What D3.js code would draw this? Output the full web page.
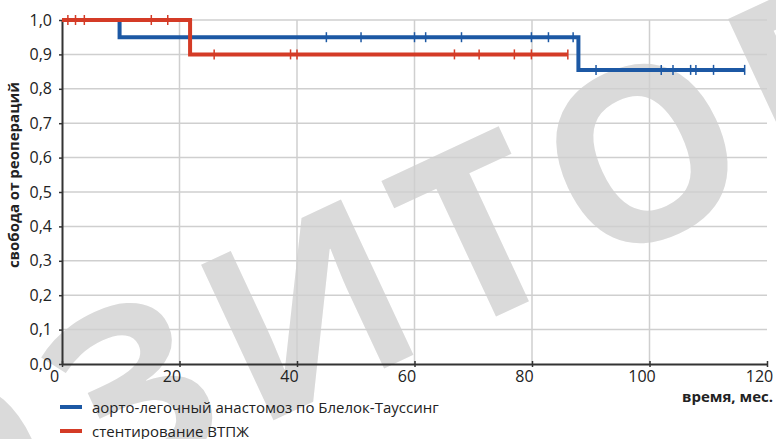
<!DOCTYPE html>
<html>
<head>
<meta charset="utf-8">
<script src="https://cdn.jsdelivr.net/npm/d3@7"></script>
<style>
  body { margin: 0; background: #fff; }
  text { font-family: "Open Sans", "Noto Sans", sans-serif; fill: #222; }
</style>
</head>
<body>
<svg></svg>
<script>
/* Kaplan-Meier: freedom from reoperation */
var w = 776, h = 439;

// step points [month, survival]
var bt_steps = [[0, 1.0], [9.8, 0.95], [87.9, 0.855], [116.2, 0.855]];
var bt_censor = [[45.0, 0.95], [50.9, 0.95], [60.0, 0.95], [61.9, 0.95], [68.0, 0.95],
                 [79.9, 0.95], [82.8, 0.95], [87.0, 0.95],
                 [90.9, 0.855], [102.0, 0.855], [104.0, 0.855], [107.0, 0.855],
                 [107.9, 0.855], [110.9, 0.855], [116.2, 0.855]];

var st_steps = [[0, 1.0], [21.8, 0.9], [86.1, 0.9]];
var st_censor = [[1.0, 1.0], [2.3, 1.0], [3.8, 1.0], [15.2, 1.0], [18.0, 1.0],
                 [25.9, 0.9], [38.9, 0.9], [40.0, 0.9], [66.8, 0.9], [71.0, 0.9],
                 [77.0, 0.9], [79.9, 0.9], [86.1, 0.9]];

var x_ticks = [0, 20, 40, 60, 80, 100, 120];
var y_ticks = [0, 0.1, 0.2, 0.3, 0.4, 0.5, 0.6, 0.7, 0.8, 0.9, 1.0];

var series_names = ["аорто-легочный анастомоз по Блелок-Тауссинг", "стентирование ВТПЖ"];
var series_colors = ["#1c58a4", "#d43b26"];

var svg = d3.select("svg").attr("width", w).attr("height", h);

var x = d3.scaleLinear().domain([0, 120]).range([62, 767]);
var y = d3.scaleLinear().domain([0, 1]).range([364, 20]);

// watermark
svg.append("text")
   .attr("transform", "translate(345,292) rotate(-25)")
   .attr("text-anchor", "middle")
   .attr("y", 86)
   .attr("font-size", 240)
   .attr("font-weight", "bold")
   .style("fill", "#dadada")
   .style("letter-spacing", "18px")
   .text("РЕПОЗИТОРИЙ");

// grid
svg.append("g").selectAll("line")
   .data(y_ticks.slice(1))
   .enter().append("line")
   .attr("x1", x(0)).attr("x2", x(120))
   .attr("y1", d => y(d)).attr("y2", d => y(d))
   .attr("stroke", "#cfcfcf").attr("stroke-width", 1.5);

svg.append("g").selectAll("line")
   .data(x_ticks.slice(1, -1))
   .enter().append("line")
   .attr("x1", d => x(d)).attr("x2", d => x(d))
   .attr("y1", y(0)).attr("y2", y(1))
   .attr("stroke", "#cfcfcf").attr("stroke-width", 1.5);

// axes
var xAxis = svg.append("g")
   .attr("transform", "translate(0," + y(0) + ")")
   .call(d3.axisBottom(x).tickValues(x_ticks).tickSize(3).tickSizeOuter(0).tickFormat(d3.format("d")));
xAxis.select(".domain").attr("stroke", "#333").attr("stroke-width", 2);
xAxis.selectAll(".tick line").attr("stroke", "#333").attr("stroke-width", 1.5).attr("y1", -3);
xAxis.selectAll(".tick text")
   .attr("font-size", 16).attr("dx", -8).attr("y", 7)
   .style("font-family", '"Open Sans", "Noto Sans", sans-serif').style("fill", "#222");

var yAxis = svg.append("g")
   .attr("transform", "translate(" + x(0) + ",0)")
   .call(d3.axisLeft(y).tickValues(y_ticks).tickSize(3).tickSizeOuter(0)
           .tickFormat(d => d3.format(".1f")(d).replace(".", ",")));
yAxis.select(".domain").attr("stroke", "#333").attr("stroke-width", 2);
yAxis.selectAll(".tick line").attr("stroke", "#333").attr("stroke-width", 1.5);
yAxis.selectAll(".tick text")
   .attr("font-size", 16).attr("x", -10)
   .style("font-family", '"Open Sans", "Noto Sans", sans-serif').style("fill", "#222");

// curves
var line = d3.line().x(d => x(d[0])).y(d => y(d[1])).curve(d3.curveStepAfter);

[[bt_steps, bt_censor], [st_steps, st_censor]].forEach(function(s, i) {
  var g = svg.append("g");
  g.append("path").datum(s[0])
   .attr("d", line).attr("fill", "none")
   .attr("stroke", series_colors[i]).attr("stroke-width", 4);
  g.selectAll("line").data(s[1]).enter().append("line")
   .attr("x1", d => x(d[0])).attr("x2", d => x(d[0]))
   .attr("y1", d => y(d[1]) - 5).attr("y2", d => y(d[1]) + 5)
   .attr("stroke", series_colors[i]).attr("stroke-width", 1.5);
});

// axis titles
svg.append("text")
   .attr("x", 773).attr("y", 402)
   .attr("text-anchor", "end")
   .attr("font-size", 15).attr("font-weight", "bold")
   .text("время, мес.");

svg.append("text")
   .attr("transform", "translate(19,175) rotate(-90)")
   .attr("text-anchor", "middle")
   .attr("font-size", 15).attr("font-weight", "bold")
   .text("свобода от реопераций");

// legend
var legend = svg.append("g").selectAll("g")
   .data(series_names).enter().append("g")
   .attr("transform", (d, i) => "translate(60," + (407 + i * 24) + ")");
legend.append("line")
   .attr("x1", 0).attr("x2", 22)
   .attr("stroke", (d, i) => series_colors[i]).attr("stroke-width", 4);
legend.append("text")
   .attr("x", 32).attr("y", 5.5)
   .attr("font-size", 15)
   .text(d => d);
</script>
</body>
</html>
